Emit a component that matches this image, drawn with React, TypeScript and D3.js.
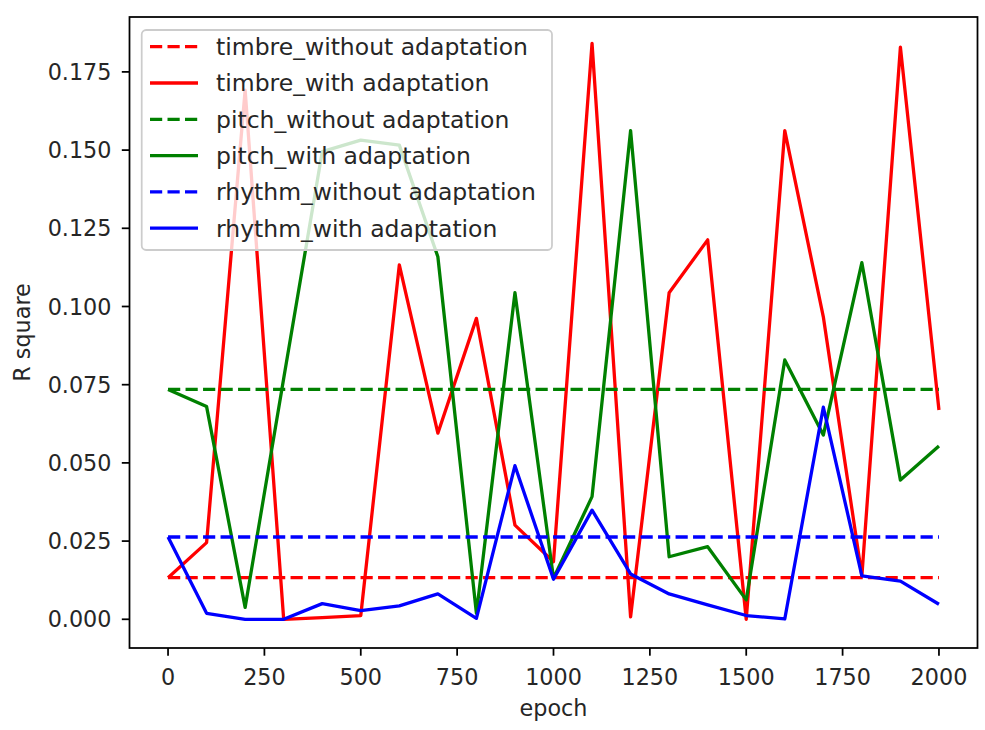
import React, { useEffect, useRef } from "react";
import * as d3 from "d3";

const epochs = [0, 100, 200, 300, 400, 500, 600, 700, 800, 900, 1000, 1100, 1200, 1300, 1400, 1500, 1600, 1700, 1800, 1900, 2000];

const timbreWithout = 0.0133;
const pitchWithout = 0.0735;
const rhythmWithout = 0.0263;

const timbreWith = [0.0133, 0.0245, 0.1692, 0.0, 0.0005, 0.0012, 0.1133, 0.0595, 0.0962, 0.0301, 0.0184, 0.1841, 0.0008, 0.1044, 0.1213, 0.0, 0.1562, 0.0967, 0.0139, 0.1829, 0.0669];
const pitchWith = [0.0735, 0.068, 0.0038, 0.077, 0.1495, 0.1532, 0.1516, 0.1159, 0.0019, 0.1044, 0.0131, 0.0392, 0.1562, 0.02, 0.0232, 0.0062, 0.0829, 0.0589, 0.114, 0.0445, 0.0554];
const rhythmWith = [0.0263, 0.0019, 0.0, 0.0, 0.005, 0.0028, 0.0043, 0.0081, 0.0003, 0.0491, 0.0128, 0.0349, 0.0145, 0.0081, 0.0046, 0.0012, 0.0001, 0.0678, 0.0139, 0.0122, 0.0048];

const xTicks = [0, 250, 500, 750, 1000, 1250, 1500, 1750, 2000];
const yTicks = [0, 0.025, 0.05, 0.075, 0.1, 0.125, 0.15, 0.175];

const seriesNames = [
  "timbre_without adaptation",
  "timbre_with adaptation",
  "pitch_without adaptation",
  "pitch_with adaptation",
  "rhythm_without adaptation",
  "rhythm_with adaptation",
];

export default function App() {
  const ref = useRef<SVGSVGElement>(null);

  useEffect(() => {
    const svg = d3.select(ref.current);
    svg.selectAll("*").remove();

    const left = 129.5, right = 977.5, top = 17, bottom = 648;
    const font = "DejaVu Sans, sans-serif";
    const fs = 22.3;
    const legendFs = 23.5;
    const lw = 3.3;
    const dash = "12.2,5.3";

    const x = d3.scaleLinear().domain([-100, 2100]).range([left, right]);
    const y = d3.scaleLinear().domain([-0.00918, 0.19255]).range([bottom, top]);

    const series = [
      { name: seriesNames[0], color: "#ff0000", dashed: true, values: epochs.map(() => timbreWithout) },
      { name: seriesNames[1], color: "#ff0000", dashed: false, values: timbreWith },
      { name: seriesNames[2], color: "#008000", dashed: true, values: epochs.map(() => pitchWithout) },
      { name: seriesNames[3], color: "#008000", dashed: false, values: pitchWith },
      { name: seriesNames[4], color: "#0000ff", dashed: true, values: epochs.map(() => rhythmWithout) },
      { name: seriesNames[5], color: "#0000ff", dashed: false, values: rhythmWith },
    ];

    svg.append("rect").attr("width", 985).attr("height", 730).attr("fill", "#fff");

    const line = d3
      .line<number>()
      .x((_, i) => x(epochs[i]))
      .y((d) => y(d));

    series.forEach((s) => {
      svg
        .append("path")
        .attr("d", line(s.values))
        .attr("fill", "none")
        .attr("stroke", s.color)
        .attr("stroke-width", lw)
        .attr("stroke-linejoin", "round")
        .attr("stroke-dasharray", s.dashed ? dash : null);
    });

    // axes frame
    svg
      .append("rect")
      .attr("x", left)
      .attr("y", top)
      .attr("width", right - left)
      .attr("height", bottom - top)
      .attr("fill", "none")
      .attr("stroke", "#000")
      .attr("stroke-width", 1.76);

    // x ticks
    const xg = svg.append("g");
    xTicks.forEach((t) => {
      xg.append("line")
        .attr("x1", x(t)).attr("x2", x(t))
        .attr("y1", bottom).attr("y2", bottom + 7.7)
        .attr("stroke", "#000").attr("stroke-width", 1.76);
      xg.append("text")
        .attr("x", x(t))
        .attr("y", 684.5)
        .attr("text-anchor", "middle")
        .attr("font-family", font)
        .attr("font-size", fs)
        .attr("fill", "#262626")
        .text(String(t));
    });

    // y ticks
    const yg = svg.append("g");
    yTicks.forEach((t) => {
      yg.append("line")
        .attr("x1", left - 7.7).attr("x2", left)
        .attr("y1", y(t)).attr("y2", y(t))
        .attr("stroke", "#000").attr("stroke-width", 1.76);
      yg.append("text")
        .attr("x", 111.5)
        .attr("y", y(t))
        .attr("dy", "0.36em")
        .attr("text-anchor", "end")
        .attr("font-family", font)
        .attr("font-size", fs)
        .attr("fill", "#262626")
        .text(d3.format(".3f")(t));
    });

    svg.append("text")
      .attr("x", (left + right) / 2)
      .attr("y", 716)
      .attr("text-anchor", "middle")
      .attr("font-family", font)
      .attr("font-size", fs)
      .attr("fill", "#262626")
      .text("epoch");

    svg.append("text")
      .attr("transform", `translate(30,${(top + bottom) / 2}) rotate(-90)`)
      .attr("text-anchor", "middle")
      .attr("font-family", font)
      .attr("font-size", fs)
      .attr("fill", "#262626")
      .text("R square");

    // legend
    const lg = svg.append("g");
    lg.append("rect")
      .attr("x", 141.7)
      .attr("y", 30)
      .attr("width", 410.3)
      .attr("height", 220)
      .attr("rx", 4.4)
      .attr("fill", "#fff")
      .attr("fill-opacity", 0.8)
      .attr("stroke", "#cccccc")
      .attr("stroke-width", 1.76);

    series.forEach((s, i) => {
      const cy = 46.7 + i * 36.3;
      lg.append("line")
        .attr("x1", 150).attr("x2", 198)
        .attr("y1", cy).attr("y2", cy)
        .attr("stroke", s.color)
        .attr("stroke-width", lw)
        .attr("stroke-dasharray", s.dashed ? dash : null);
      lg.append("text")
        .attr("x", 216)
        .attr("y", cy)
        .attr("dy", "0.36em")
        .attr("font-family", font)
        .attr("font-size", legendFs)
        .attr("fill", "#262626")
        .text(s.name);
    });
  }, []);

  return (
    <svg
      ref={ref}
      width={985}
      height={730}
      style={{ position: "absolute", left: 0, top: 0 }}
    />
  );
}
